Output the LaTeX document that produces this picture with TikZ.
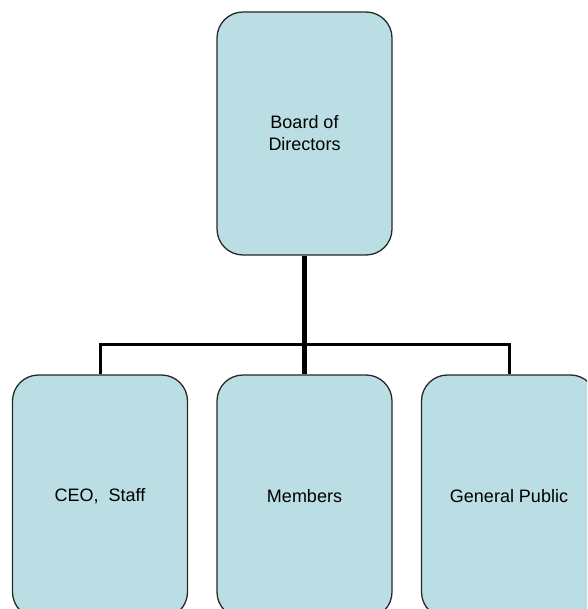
\documentclass[tikz,border=0pt]{standalone}
\usepackage{fontspec}
\setmainfont{Liberation Sans}
\definecolor{boxfill}{RGB}{186,222,227}
\definecolor{boxline}{RGB}{40,40,40}
\begin{document}
\begin{tikzpicture}[x=1pt,y=-1pt,
  orgbox/.style={draw=boxline, line width=1.3pt, fill=boxfill, rounded corners=26pt,
    minimum width=175pt, minimum height=243pt, inner sep=0pt, align=center,
    font=\fontsize{18}{22}\selectfont},
  trunk/.style={line width=5pt},
  branch/.style={line width=3pt}]
\useasboundingbox (0,0) rectangle (587,609);
\clip (0,0) rectangle (587,609);
\node[orgbox] (board) at (304.5,133.5) {Board of\\Directors};
\node[orgbox] (ceo) at (100,496.5) {CEO,\ \ Staff};
\node[orgbox] (mem) at (304.5,496.5) {Members};
\node[orgbox] (gp) at (509,496.5) {General Public};
\coordinate (hub) at (304.5,344);
\draw[trunk] (board.south) -- (mem.north);
\draw[branch] (ceo.north) |- (hub) -| (gp.north);
\end{tikzpicture}
\end{document}
